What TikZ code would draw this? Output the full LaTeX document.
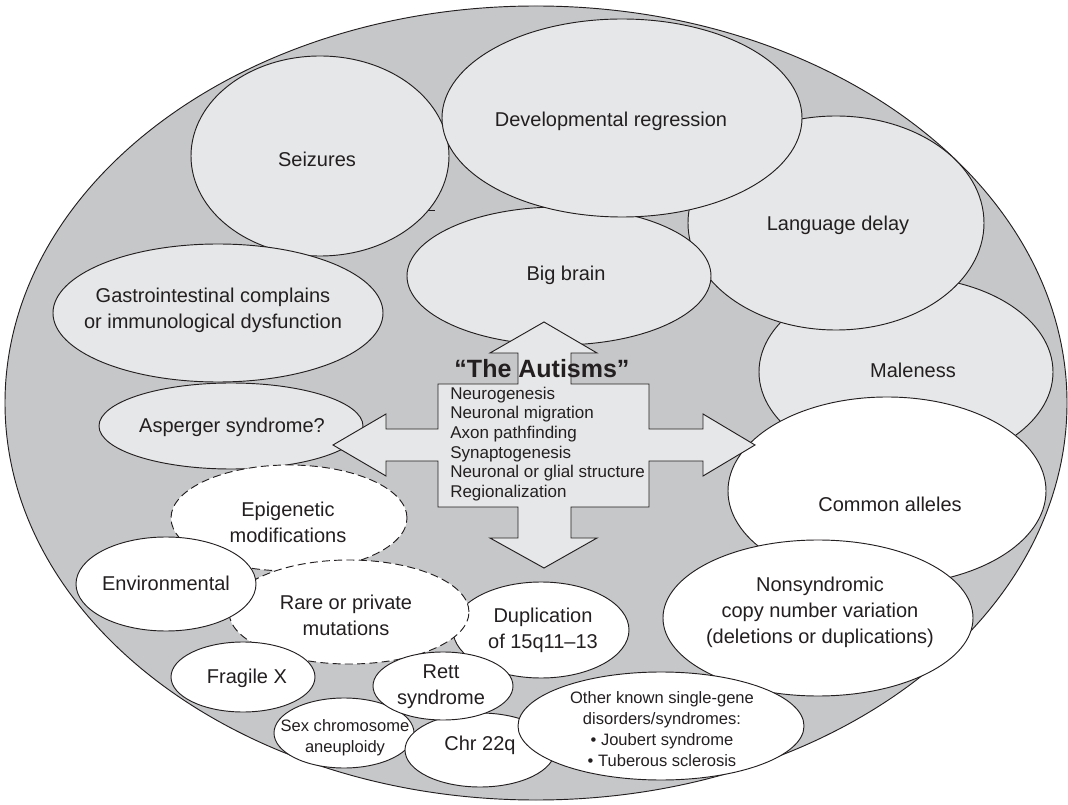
\documentclass[tikz,border=0pt]{standalone}
\usepackage{fontspec}
\setmainfont{Liberation Sans}
\usetikzlibrary{shapes.geometric}
\definecolor{outerg}{HTML}{C6C7C9}
\definecolor{liteg}{HTML}{E6E7E8}
\definecolor{ink}{HTML}{231F20}
\begin{document}
\begin{tikzpicture}[x=0.75pt,y=-0.75pt,
  bub/.style n args={2}{ellipse, draw=ink, line width=0.7pt, inner sep=0pt,
     minimum width={#1*1.5pt}, minimum height={#2*1.5pt}},
  lite/.style={fill=liteg},
  wht/.style={fill=white},
  dsh/.style={dash pattern=on 6pt off 3.2pt},
  lbl/.style={text=ink, font=\fontsize{15}{19.5}\selectfont, align=center, inner sep=0pt},
  sml/.style={text=ink, font=\fontsize{12.4}{15.75}\selectfont, align=center, inner sep=0pt},
]
\fill[white] (0,0) rectangle (1068,805);
\useasboundingbox (0,0) rectangle (1068,805);

% outer ellipse
\node[bub={531}{397}, fill=outerg] (outer) at (536,403) {};

% upper (light) bubbles
\node[bub={129}{100}, lite] (seiz) at (320,156) {};
\node[bub={165}{69}, lite] (gast) at (218,313) {};
\node[bub={147}{95}, lite] (male) at (906,372) {};
\node[bub={148}{107}, lite] (lang) at (836,223) {};
\node[bub={152}{69}, lite] (brain) at (559,276) {};
\node[bub={180}{99}, lite] (devr) at (622,118) {};
\node[bub={159}{94}, wht] (comm) at (887,491) {};
\node[bub={155}{78}, wht] (nons) at (818,618) {};
\node[bub={132}{43}, lite] (asp) at (231,426) {};

% lower (white) bubbles
\node[bub={118}{53}, wht, dsh] (epi) at (289,518) {};
\node[bub={88}{48}, wht] (dup) at (541,630) {};
\node[bub={120}{52}, wht, dsh] (rare) at (349,612) {};
\node[bub={90}{47}, wht] (env) at (166,584) {};
\node[bub={72}{35}, wht] (frag) at (243,677) {};
\node[bub={70}{35}, wht] (sex) at (344,733) {};
\node[bub={75}{37}, wht] (chr) at (480,750) {};
\node[bub={70}{34}, wht] (rett) at (443,686) {};
\node[bub={143}{54}, wht] (other) at (661,726) {};

% small stray tick
\draw[ink, line width=0.6pt] (428,210) -- (435,210);

% central four-way arrow
\filldraw[fill=liteg, draw=ink, line width=0.7pt, line join=miter]
  (544,322) -- (597,353) -- (571,353) -- (571,384) -- (649,384) -- (649,429)
  -- (703,429) -- (703,414) -- (755,445) -- (703,476) -- (703,461) -- (649,461)
  -- (649,507) -- (571,507) -- (571,538) -- (597,538) -- (544,568) -- (490,538)
  -- (518,538) -- (518,507) -- (438,507) -- (438,461) -- (386,461) -- (386,476)
  -- (333,445) -- (386,414) -- (386,429) -- (438,429) -- (438,384) -- (518,384)
  -- (518,353) -- (490,353) -- cycle;

% texts
\node[lbl] (seiz-t) at (317,159) {Seizures};
\node[lbl] (devr-t) at (611,121) {Developmental regression};
\node[lbl] (lang-t) at (838,225) {Language delay};
\node[lbl] (brain-t) at (566,275) {Big brain};
\node[lbl] (gast-t) at (213,310) {Gastrointestinal complains\\or immunological dysfunction};
\node[lbl] (male-t) at (913,370) {Maleness};
\node[lbl] (asp-t) at (232,427) {Asperger syndrome?};
\node[lbl] (comm-t) at (890,504) {Common alleles};
\node[lbl] (nons-t) at (820,612) {Nonsyndromic\\copy number variation\\(deletions or duplications)};
\node[lbl] (epi-t) at (288,522) {Epigenetic\\modifications};
\node[lbl] (env-t) at (166,583) {Environmental};
\node[lbl] (rare-t) at (346,615) {Rare or private\\mutations};
\node[lbl] (dup-t) at (543,630) {Duplication\\of 15q11–13};
\node[lbl] (frag-t) at (247,678) {Fragile X};
\node[lbl] (rett-t) at (441,687) {Rett\\syndrome};
\node[sml] (sex-t) at (345,738) {Sex chromosome\\aneuploidy};
\node[lbl] (chr-t) at (480,745) {Chr 22q};
\node[sml] (other-t) at (662,729) {Other known single-gene\\disorders/syndromes:\\• Joubert syndrome\\• Tuberous sclerosis};

\node[text=ink, font=\fontsize{18.75}{22}\selectfont\bfseries, anchor=base, inner sep=0pt] (title) at (542,378) {“The Autisms”};
\node[text=ink, font=\fontsize{12.75}{14.7}\selectfont, align=left, anchor=west, inner sep=0pt] (list) at (450,444)
  {Neurogenesis\\Neuronal migration\\Axon pathfinding\\Synaptogenesis\\Neuronal or glial structure\\Regionalization};
\end{tikzpicture}
\end{document}
